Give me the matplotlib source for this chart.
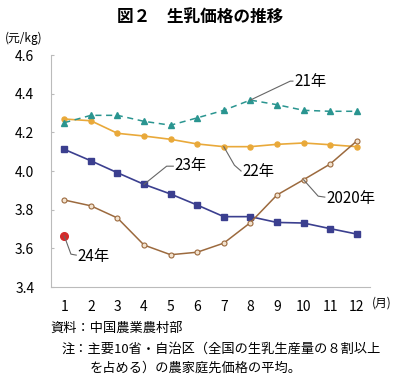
import matplotlib
matplotlib.use("Agg")
import matplotlib.pyplot as plt

plt.rcParams['font.family'] = ['Noto Sans CJK JP', 'DejaVu Sans']

months = list(range(1, 13))
y2020 = [3.85, 3.82, 3.757, 3.617, 3.567, 3.58, 3.627, 3.733, 3.876, 3.955, 4.036, 4.155]
y2021 = [4.25, 4.288, 4.288, 4.257, 4.237, 4.275, 4.314, 4.367, 4.343, 4.314, 4.309, 4.309]
y2022 = [4.269, 4.26, 4.195, 4.181, 4.164, 4.14, 4.126, 4.126, 4.138, 4.145, 4.136, 4.126]
y2023 = [4.112, 4.053, 3.991, 3.931, 3.881, 3.824, 3.764, 3.764, 3.734, 3.731, 3.702, 3.674]
y2024 = [3.664]
yticks = [3.4, 3.6, 3.8, 4.0, 4.2, 4.4, 4.6]

fig = plt.figure(figsize=(4, 3.8), dpi=100)
ax = fig.add_axes([0.1275, 0.2447, 0.7975, 0.6105])

c20 = '#9c6a3e'; c21 = '#2a9590'; c22 = '#e9a93a'; c23 = '#3b3f8f'; c24 = '#d42a2a'
ax.plot(months, y2023, color=c23, lw=1.2, marker='s', ms=4, zorder=3)
ax.plot(months, y2020, color=c20, lw=1.1, marker='o', ms=3.6, mfc='#f3e3cf', mec=c20, mew=0.8, zorder=4)
ax.plot(months, y2022, color=c22, lw=1.2, marker='o', ms=3.6, zorder=3)
ax.plot(months, y2021, color=c21, lw=1.1, ls=(0, (4, 3)), marker='^', ms=4, zorder=3)
ax.plot(months[:1], y2024, color=c24, marker='o', ms=5.5, ls='none', zorder=5)

ax.set_xlim(0.5, 12.5)
ax.set_ylim(3.4, 4.6)
ax.set_xticks(months)
ax.set_yticks(yticks)
ax.set_yticklabels([f'{v:.1f}' for v in yticks])
for s in ['top', 'right']:
    ax.spines[s].set_visible(False)
for s in ['left', 'bottom']:
    ax.spines[s].set_color('#bbbbbb')
ax.tick_params(axis='y', direction='in', length=2, color='#bbbbbb', labelsize=10, pad=12)
ax.tick_params(axis='x', length=0, labelsize=10, pad=9)

lc = '#666666'
def label(pts, text, tx, ty):
    xs = [p[0] for p in pts]; ys = [p[1] for p in pts]
    ax.plot(xs, ys, color=lc, lw=0.8, zorder=6, clip_on=False)
    ax.text(tx, ty, text, fontsize=11, va='center', ha='left', zorder=7)

label([(8, 4.367), (9.5, 4.465), (9.6, 4.465)], '21年', 9.65, 4.465)
label([(7, 4.126), (7.4, 4.03), (7.65, 4.0)], '22年', 7.7, 3.995)
label([(4, 3.931), (4.85, 4.025), (5.1, 4.025)], '23年', 5.15, 4.03)
label([(10, 3.955), (10.55, 3.87), (10.8, 3.865)], '2020年', 10.85, 3.86)
label([(1, 3.664), (1.25, 3.57), (1.45, 3.565)], '24年', 1.5, 3.56)

fig.text(0.5, 0.955, '図２　生乳価格の推移', ha='center', va='center', fontsize=12, fontweight='bold')
fig.text(0.012, 0.9, '(元/kg)', ha='left', va='center', fontsize=8.5)
fig.text(0.93, 0.203, '(月)', ha='left', va='center', fontsize=8.5)
fig.text(0.125, 0.135, '資料：中国農業農村部', ha='left', va='center', fontsize=9.5)
fig.text(0.155, 0.080, '注：主要10省・自治区（全国の生乳生産量の８割以上', ha='left', va='center', fontsize=9.5)
fig.text(0.225, 0.030, 'を占める）の農家庭先価格の平均。', ha='left', va='center', fontsize=9.5)

fig.savefig('out.png', dpi=100)
